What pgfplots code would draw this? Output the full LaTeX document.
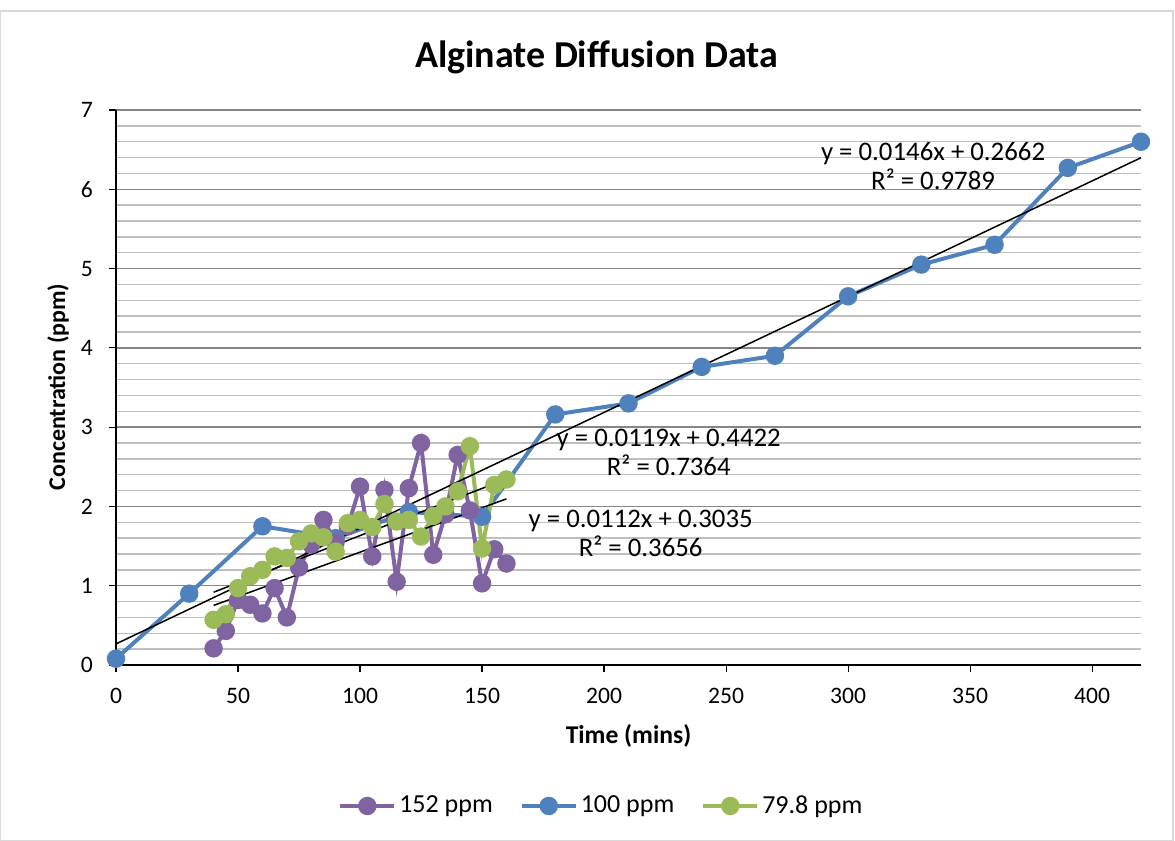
\documentclass[border=0pt]{standalone}
\usepackage{fontspec}
\setmainfont{Carlito}
\usepackage{pgfplots}
\pgfplotsset{compat=1.18}
\definecolor{cpurple}{RGB}{128,100,162}
\definecolor{cblue}{RGB}{79,129,189}
\definecolor{cgreen}{RGB}{155,187,89}
\definecolor{majgrid}{RGB}{134,134,134}
\definecolor{mingrid}{RGB}{191,191,191}
\definecolor{frame}{RGB}{217,217,217}

\pgfplotstableread{
x y
40 0.21
45 0.43
50 0.82
55 0.76
60 0.65
65 0.97
70 0.60
75 1.23
80 1.52
85 1.83
90 1.55
95 1.75
100 2.25
105 1.37
110 2.21
115 1.05
120 2.23
125 2.80
130 1.39
135 1.90
140 2.65
145 1.95
150 1.03
155 1.46
160 1.28
}\ppmA

\pgfplotstableread{
x y
0 0.08
30 0.90
60 1.75
90 1.60
120 1.93
150 1.87
180 3.16
210 3.30
240 3.76
270 3.90
300 4.65
330 5.05
360 5.30
390 6.27
420 6.60
}\ppmB

\pgfplotstableread{
x y
40 0.57
45 0.64
50 0.97
55 1.12
60 1.20
65 1.37
70 1.35
75 1.56
80 1.66
85 1.61
90 1.43
95 1.79
100 1.83
105 1.74
110 2.03
115 1.81
120 1.83
125 1.62
130 1.88
135 2.00
140 2.19
145 2.76
150 1.47
155 2.27
160 2.34
}\ppmC

\begin{document}
\begin{tikzpicture}
% page extent (1 px = 0.5pt) and outer chart frame
\path (0pt,0pt) rectangle (587.5pt,-420.5pt);
\draw[frame, line width=0.6pt] (0.3pt,-5.5pt) rectangle (586.5pt,-420.2pt);
\begin{axis}[
  at={(58pt,-332.5pt)}, anchor=south west,
  scale only axis, width=512.5pt, height=277.5pt,
  xmin=0, xmax=420, ymin=0, ymax=7,
  xtick={0,50,...,400}, ytick={0,1,...,7},
  minor y tick num=4,
  ymajorgrids, yminorgrids,
  major grid style={majgrid, line width=0.75pt},
  minor grid style={mingrid, line width=0.75pt},
  axis x line*=bottom, axis y line*=left,
  axis line style={black, line width=0.9pt, -},
  tick align=outside, major tick length=3.5pt, minor tick length=0pt,
  tick style={black, line width=0.6pt},
  ticklabel style={font=\fontsize{11.8}{14}\selectfont},
  xticklabel style={yshift=-4.5pt},
  yticklabel style={xshift=-4.5pt},
  /pgf/number format/assume math mode=true,
  title={\bfseries Alginate Diffusion Data},
  title style={font=\fontsize{19}{22}\selectfont, at={(axis description cs:0.469,1.074)}, anchor=center},
  xlabel={\bfseries Time (mins)},
  xlabel style={font=\fontsize{12.8}{15}\selectfont, at={(axis description cs:0.5,-0.128)}, anchor=center},
  ylabel={\bfseries Concentration (ppm)},
  ylabel style={font=\fontsize{12}{14}\selectfont, at={(axis description cs:-0.0566,0.501)}, anchor=center, rotate=0},
  legend style={at={(axis description cs:0.474,-0.254)}, anchor=center, draw=none,
    font=\fontsize{13}{16}\selectfont, column sep=0pt,
    /tikz/every even column/.append style={column sep=12pt},
    nodes={inner sep=1.5pt}},
  legend columns=3,
  legend image code/.code={\draw[mark repeat=2,mark phase=2] plot coordinates {(0pt,0pt)(13.5pt,0pt)(27pt,0pt)};},
  clip=false,
  every axis plot/.append style={line width=2pt, mark=*, mark size=3.6pt},
]
\addlegendimage{cpurple, line width=2pt, mark=*, mark size=3.6pt, mark options={fill=cpurple}}
\addlegendentry{152 ppm}
\addlegendimage{cblue, line width=2pt, mark=*, mark size=3.6pt, mark options={fill=cblue}}
\addlegendentry{100 ppm}
\addlegendimage{cgreen, line width=2pt, mark=*, mark size=3.6pt, mark options={fill=cgreen}}
\addlegendentry{79.8 ppm}

\addplot[cblue, mark options={fill=cblue}, forget plot] table[x=x,y=y] {\ppmB};
\addplot[cpurple, mark options={fill=cpurple}, forget plot] table[x=x,y=y] {\ppmA};
\addplot[cgreen, mark options={fill=cgreen}, forget plot] table[x=x,y=y] {\ppmC};

% linear trendlines (endpoints from the fitted equations)
\addplot[black, line width=0.75pt, mark=none, forget plot] coordinates {(0,0.2662) (420,6.3982)};
\addplot[black, line width=0.75pt, mark=none, forget plot] coordinates {(40,0.7515) (160,2.0955)};
\addplot[black, line width=0.75pt, mark=none, forget plot] coordinates {(40,0.9182) (160,2.3462)};

\node[font=\fontsize{13.4}{16}\selectfont, align=center] at (axis cs:334.8,6.29)
  {y = 0.0146x + 0.2662\\[-1.5pt] R² = 0.9789};
\node[font=\fontsize{13.4}{16}\selectfont, align=center] at (axis cs:226.5,2.68)
  {y = 0.0119x + 0.4422\\[-1.5pt] R² = 0.7364};
\node[font=\fontsize{13.4}{16}\selectfont, align=center] at (axis cs:215,1.66)
  {y = 0.0112x + 0.3035\\[-1.5pt] R² = 0.3656};
\end{axis}
\end{tikzpicture}
\end{document}
